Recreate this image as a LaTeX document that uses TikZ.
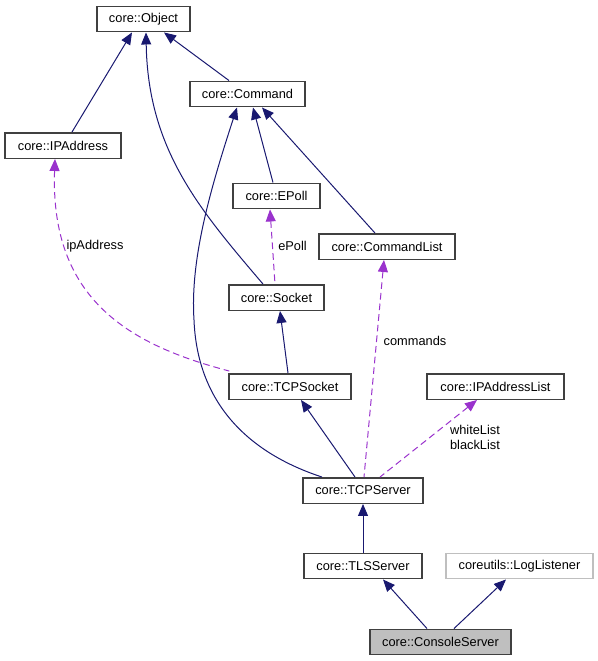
\documentclass[tikz,border=0pt]{standalone}
\usepackage{fontspec}
\setmainfont{Liberation Sans}
\usetikzlibrary{arrows.meta,calc}
\definecolor{boxgray}{HTML}{404040}
\definecolor{lightgray}{HTML}{BFBFBF}
\definecolor{edgeblue}{HTML}{191970}
\definecolor{edgepurple}{HTML}{9A32CD}
\tikzset{
  cls/.style={draw=boxgray, line width=1.1pt, minimum height=19.1pt, inner sep=0pt,
    font=\fontsize{9.6}{11}\selectfont},
  inh/.style={{Triangle[length=9pt,width=7.5pt]}-, draw=edgeblue, line width=0.75pt},
  use/.style={{Triangle[length=9pt,width=7.5pt]}-, draw=edgepurple, line width=0.75pt,
    dash pattern=on 5pt off 3pt},
  lbl/.style={font=\fontsize{9.6}{11}\selectfont, inner sep=0pt, align=left}
}
\begin{document}
\begin{tikzpicture}[x=0.75pt,y=-0.75pt]
      \useasboundingbox (0,0) rectangle (598,661);

      \node[cls, minimum width=69.75pt] (Obj) at (143.5,19) {core::Object};
      \node[cls, minimum width=86.25pt] (Cmd) at (247.5,94) {core::Command};
      \node[cls, minimum width=87pt] (IPA) at (63,145.5) {core::IPAddress};
      \node[cls, minimum width=65.25pt] (EPoll) at (276.5,196) {core::EPoll};
      \node[cls, minimum width=102pt] (CmdL) at (387,246.5) {core::CommandList};
      \node[cls, minimum width=71.25pt] (Sock) at (276.5,297.5) {core::Socket};
      \node[cls, minimum width=91.5pt] (TCPSock) at (290,386.5) {core::TCPSocket};
      \node[cls, minimum width=102.75pt] (IPAL) at (495.5,386.5) {core::IPAddressList};
      \node[cls, minimum width=90pt] (TCPSrv) at (363,490.5) {core::TCPServer};
      \node[cls, minimum width=88.5pt] (TLS) at (363,566) {core::TLSServer};
      \node[cls, draw=lightgray, minimum width=110.25pt] (Log) at (519.5,566) {coreutils::LogListener};
      \node[cls, fill=lightgray, minimum width=105.75pt] (Con) at (440.5,642) {core::ConsoleServer};

      \node[lbl] (LIPA) at (95,246) {ipAddress};
      \node[lbl] (LEPoll) at (292.5,246) {ePoll};
      \node[lbl] (LCmds) at (415,341) {commands};
      \node[lbl] (LWB) at (475,437.5) {whiteList\\blackList};

      % inheritance
      \draw [inh] ($(Obj.south)+(-11.5,0)$) to ($(IPA.north)+(9,0)$);
      \draw [inh] ($(Obj.south)+(2.5,0)$) .. controls (148,150) and (200,210) .. ($(Sock.north)+(-13.5,0)$);
      \draw [inh] ($(Obj.south)+(20.5,0)$) to ($(Cmd.north)+(-18.5,0)$);
      \draw [inh] ($(Cmd.south)+(-10.5,0)$) .. controls (210,190) and (190,260) .. (194,320)
        .. controls (198,420) and (270,460) .. ($(TCPSrv.north)+(-41,0)$);
      \draw [inh] ($(Cmd.south)+(5.5,0)$) to ($(EPoll.north)+(-3.5,0)$);
      \draw [inh] ($(Cmd.south)+(14.5,0)$) to ($(CmdL.north)+(-12,0)$);
      \draw [inh] ($(Sock.south)+(3.5,0)$) to ($(TCPSock.north)+(-2,0)$);
      \draw [inh] ($(TCPSock.south)+(11,0)$) to ($(TCPSrv.north)+(-8,0)$);
      \draw [inh] (TCPSrv.south) to (TLS.north);
      \draw [inh] ($(TLS.south)+(20,0)$) to ($(Con.north)+(-13.5,0)$);
      \draw [inh] ($(Log.south)+(-13.5,0)$) to ($(Con.north)+(13.5,0)$);

      % members
      \draw [use] ($(EPoll.south)+(-6.5,0)$) to ($(Sock.north)+(-1.5,0)$);
      \draw [use] ($(IPA.south)+(-8,0)$) .. controls (50,300) and (130,345) .. ($(TCPSock.north west)+(1,-2)$);
      \draw [use] ($(CmdL.south)+(-3,0)$) to ($(TCPSrv.north)+(1,0)$);
      \draw [use] ($(IPAL.south)+(-18.5,0)$) to ($(TCPSrv.north)+(17,0)$);
  \end{tikzpicture}
\end{document}
